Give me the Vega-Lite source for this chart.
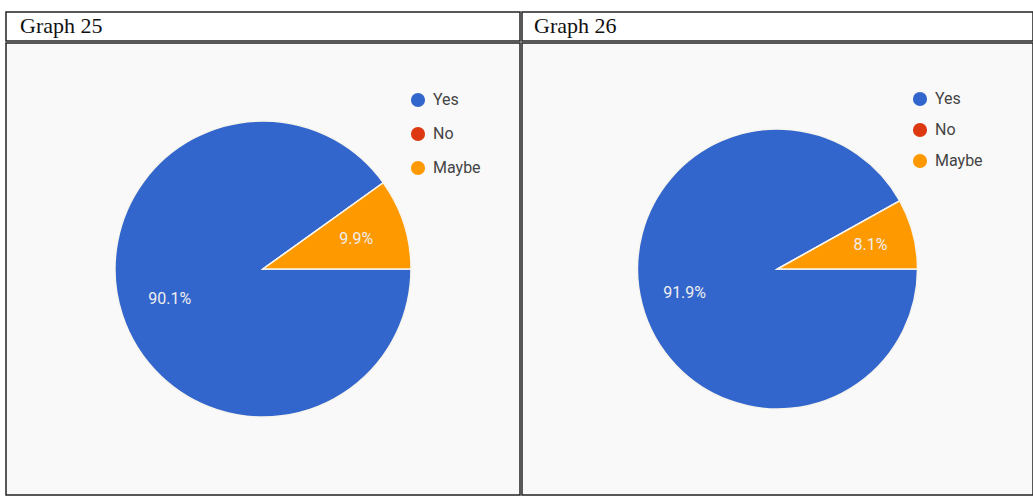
{
  "$schema": "https://vega.github.io/schema/vega-lite/v6.json",
  "padding": {"left": 5, "top": 11, "right": 0, "bottom": 0},
  "background": "white",
  "config": {"view": {"stroke": "#222", "strokeWidth": 1.5}, "concat": {"spacing": 0}, "font": "Roboto"},
  "spacing": 0,
  "resolve": {"scale": {"color": "independent", "theta": "independent"}, "legend": {"color": "independent"}},
  "hconcat": [
    {
      "spacing": 0,
      "vconcat": [
        {
          "width": 514, "height": 29,
          "view": {"stroke": "#222", "strokeWidth": 1.5, "fill": "white"},
          "data": {"values": [{"t": "Graph 25"}]},
          "mark": {"type": "text", "align": "left", "baseline": "alphabetic", "dx": 14, "dy": 6, "font": "Liberation Serif", "fontSize": 22, "color": "#111"},
          "encoding": {
            "x": {"datum": 0, "type": "quantitative", "scale": {"domain": [0, 1]}, "axis": null},
            "y": {"datum": 0.5, "type": "quantitative", "scale": {"domain": [0, 1]}, "axis": null},
            "text": {"field": "t", "type": "nominal"}
          }
        },
        {
          "width": 514, "height": 452,
          "view": {"stroke": "#222", "strokeWidth": 1.5, "fill": "#f9f9f9"},
          "data": {"values": [
            {"answer": "Yes", "pct": 90.1, "ord": 1, "lbl": "90.1%"},
            {"answer": "No", "pct": 0, "ord": 2, "lbl": ""},
            {"answer": "Maybe", "pct": 9.9, "ord": 3, "lbl": "9.9%"}
          ]},
          "encoding": {
            "theta": {"field": "pct", "type": "quantitative", "stack": true, "scale": {"range": [1.5708, 7.854]}},
            "order": {"field": "ord", "type": "quantitative"}
          },
          "layer": [
            {
              "mark": {"type": "arc", "outerRadius": 148, "stroke": "#f7f5ee", "strokeWidth": 1.5},
              "encoding": {
                "color": {"field": "answer", "type": "nominal",
                  "scale": {"domain": ["Yes", "No", "Maybe"], "range": ["#3366cc", "#dc3912", "#ff9900"]},
                  "legend": {"title": null, "orient": "none", "legendX": 404, "legendY": 80, "symbolType": "circle", "symbolSize": 200, "labelFontSize": 16, "labelColor": "#444", "labelFont": "Roboto", "rowPadding": 18, "labelOffset": 7, "symbolStrokeWidth": 0}}
              }
            },
            {
              "mark": {"type": "text", "radius": 98, "fontSize": 16, "font": "Roboto", "fill": "#eeeeee"},
              "encoding": {
                "detail": {"field": "answer", "type": "nominal"},
                "text": {"field": "lbl", "type": "nominal"}
              }
            }
          ]
        }
      ]
    },
    {
      "spacing": 0,
      "vconcat": [
        {
          "width": 511, "height": 29,
          "view": {"stroke": "#222", "strokeWidth": 1.5, "fill": "white"},
          "data": {"values": [{"t": "Graph 26"}]},
          "mark": {"type": "text", "align": "left", "baseline": "alphabetic", "dx": 12, "dy": 6, "font": "Liberation Serif", "fontSize": 22, "color": "#111"},
          "encoding": {
            "x": {"datum": 0, "type": "quantitative", "scale": {"domain": [0, 1]}, "axis": null},
            "y": {"datum": 0.5, "type": "quantitative", "scale": {"domain": [0, 1]}, "axis": null},
            "text": {"field": "t", "type": "nominal"}
          }
        },
        {
          "width": 511, "height": 452,
          "view": {"stroke": "#222", "strokeWidth": 1.5, "fill": "#f9f9f9"},
          "data": {"values": [
            {"answer": "Yes", "pct": 91.9, "ord": 1, "lbl": "91.9%"},
            {"answer": "No", "pct": 0, "ord": 2, "lbl": ""},
            {"answer": "Maybe", "pct": 8.1, "ord": 3, "lbl": "8.1%"}
          ]},
          "encoding": {
            "theta": {"field": "pct", "type": "quantitative", "stack": true, "scale": {"range": [1.5708, 7.854]}},
            "order": {"field": "ord", "type": "quantitative"}
          },
          "layer": [
            {
              "mark": {"type": "arc", "outerRadius": 140, "stroke": "#f7f5ee", "strokeWidth": 1.5},
              "encoding": {
                "color": {"field": "answer", "type": "nominal",
                  "scale": {"domain": ["Yes", "No", "Maybe"], "range": ["#3366cc", "#dc3912", "#ff9900"]},
                  "legend": {"title": null, "orient": "none", "legendX": 390, "legendY": 79, "symbolType": "circle", "symbolSize": 200, "labelFontSize": 16, "labelColor": "#444", "labelFont": "Roboto", "rowPadding": 15, "labelOffset": 7, "symbolStrokeWidth": 0}}
              }
            },
            {
              "mark": {"type": "text", "radius": 96, "fontSize": 16, "font": "Roboto", "fill": "#eeeeee"},
              "encoding": {
                "detail": {"field": "answer", "type": "nominal"},
                "text": {"field": "lbl", "type": "nominal"}
              }
            }
          ]
        }
      ]
    }
  ]
}
